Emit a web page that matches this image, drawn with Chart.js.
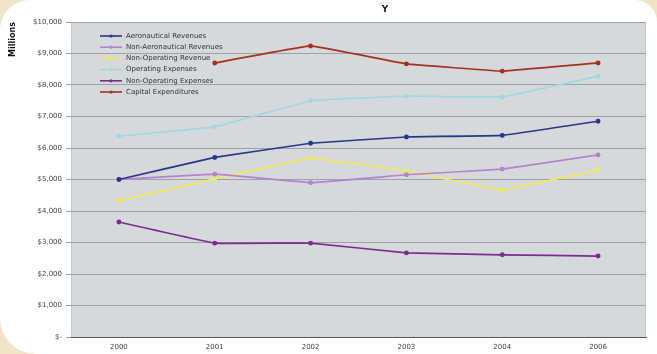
<!DOCTYPE html>
<html>
<head>
<meta charset="utf-8">
<script src="https://cdn.jsdelivr.net/npm/chart.js@4.4.0/dist/chart.umd.min.js"></script>
<style>
  html, body { margin: 0; padding: 0; background: #f2e4c6; }
  #wrap {
    width: 657px; height: 354px; background: #ffffff;
    border-radius: 30px 22px 0 36px; overflow: hidden;
  }
  canvas { display: block; }
</style>
</head>
<body>
<div id="wrap"><canvas id="chart" width="657" height="354"></canvas></div>
<script>
const years = ['2000', '2001', '2002', '2003', '2004', '2006'];
const aeroRevenues = [5000, 5700, 6150, 6350, 6400, 6850];
const nonAeroRevenues = [5000, 5170, 4900, 5150, 5330, 5780];
const nonOpRevenue = [4320, 5020, 5680, 5270, 4670, 5300];
const opExpenses = [6380, 6670, 7500, 7650, 7620, 8280];
const nonOpExpenses = [3650, 2980, 2980, 2670, 2610, 2570];
const capitalExp = [null, 8700, 9240, 8670, 8440, 8700];

const seriesNames = [
    'Aeronautical Revenues',
    'Non-Aeronautical Revenues',
    'Non-Operating Revenue',
    'Operating Expenses',
    'Non-Operating Expenses',
    'Capital Expenditures'
];
const seriesColors = ['#27378a', '#b583c9', '#f2e85e', '#a3d8dd', '#7b2d8e', '#a5301d'];
const seriesValues = [aeroRevenues, nonAeroRevenues, nonOpRevenue, opExpenses, nonOpExpenses, capitalExp];
const chartTitle = 'Y';

const fmtMoney = v => v === 0 ? '$-' : '$' + v.toFixed(0).replace(/\B(?=(\d{3})+(?!\d))/g, ',');

// grey plot background
const plotBg = {
    id: 'plotBg',
    beforeDraw(chart) {
        const { ctx, chartArea: a } = chart;
        ctx.save();
        ctx.fillStyle = '#d6d9dc';
        ctx.fillRect(a.left, a.top, a.right - a.left, a.bottom - a.top);
        ctx.strokeStyle = '#c4c7ca';
        ctx.lineWidth = 1;
        ctx.strokeRect(a.left + 0.5, a.top + 0.5, a.right - a.left - 1, a.bottom - a.top);
        ctx.restore();
    }
};

// title sits a bit right of centre, legend box inside the plot at top left
const overlay = {
    id: 'overlay',
    afterDraw(chart) {
        const { ctx, chartArea: a } = chart;
        ctx.save();
        ctx.fillStyle = '#222';
        ctx.font = 'bold 9px "DejaVu Sans", sans-serif';
        ctx.textAlign = 'center';
        ctx.textBaseline = 'middle';
        ctx.fillText(chartTitle, 385, 10);

        const x0 = a.left + 29, y0 = a.top + 14, rowH = 11.2;
        ctx.font = '7px "DejaVu Sans", sans-serif';
        ctx.textAlign = 'left';
        chart.data.datasets.forEach((ds, i) => {
            const y = y0 + i * rowH;
            ctx.strokeStyle = ds.borderColor;
            ctx.lineWidth = 1.6;
            ctx.beginPath();
            ctx.moveTo(x0, y);
            ctx.lineTo(x0 + 22, y);
            ctx.stroke();
            ctx.fillStyle = ds.borderColor;
            ctx.beginPath();
            ctx.arc(x0 + 11, y, 1.6, 0, Math.PI * 2);
            ctx.fill();
            ctx.fillStyle = '#333';
            ctx.fillText(ds.label, x0 + 26, y);
        });
        ctx.restore();
    }
};

new Chart(document.getElementById('chart'), {
    type: 'line',
    data: {
        labels: years,
        datasets: seriesValues.map((vals, i) => ({
            label: seriesNames[i],
            data: vals,
            borderColor: seriesColors[i],
            backgroundColor: seriesColors[i],
            borderWidth: 1.7,
            pointRadius: 1.6,
            pointHoverRadius: 1.6,
            tension: 0.05,
            spanGaps: false
        }))
    },
    options: {
        responsive: false,
        animation: false,
        layout: { padding: { left: 0, right: 11, top: 22, bottom: 0 } },
        plugins: {
            legend: { display: false },
            tooltip: { enabled: false },
            title: { display: false }
        },
        scales: {
            x: {
                offset: true,
                grid: { display: false, drawTicks: false },
                border: { display: true, color: '#555', width: 1 },
                ticks: {
                    color: '#444',
                    font: { family: '"DejaVu Sans", sans-serif', size: 7 },
                    padding: 6,
                    maxRotation: 0
                },
                afterFit(scale) { scale.height = 17; }
            },
            y: {
                min: 0,
                max: 10000,
                grid: { color: '#9fa2a5', drawTicks: true, tickLength: 5, tickColor: '#9fa2a5' },
                border: { display: false },
                ticks: {
                    stepSize: 1000,
                    color: '#444',
                    font: { family: '"DejaVu Sans", sans-serif', size: 7 },
                    padding: 4,
                    callback: v => fmtMoney(v)
                },
                title: {
                    display: true,
                    text: 'Millions',
                    align: 'end',
                    color: '#111',
                    font: { family: '"DejaVu Sans", sans-serif', size: 8, weight: 'bold' },
                    padding: { top: 8, bottom: 0 }
                },
                afterFit(scale) { scale.width = 71; }
            }
        }
    },
    plugins: [plotBg, overlay]
});
</script>
</body>
</html>
